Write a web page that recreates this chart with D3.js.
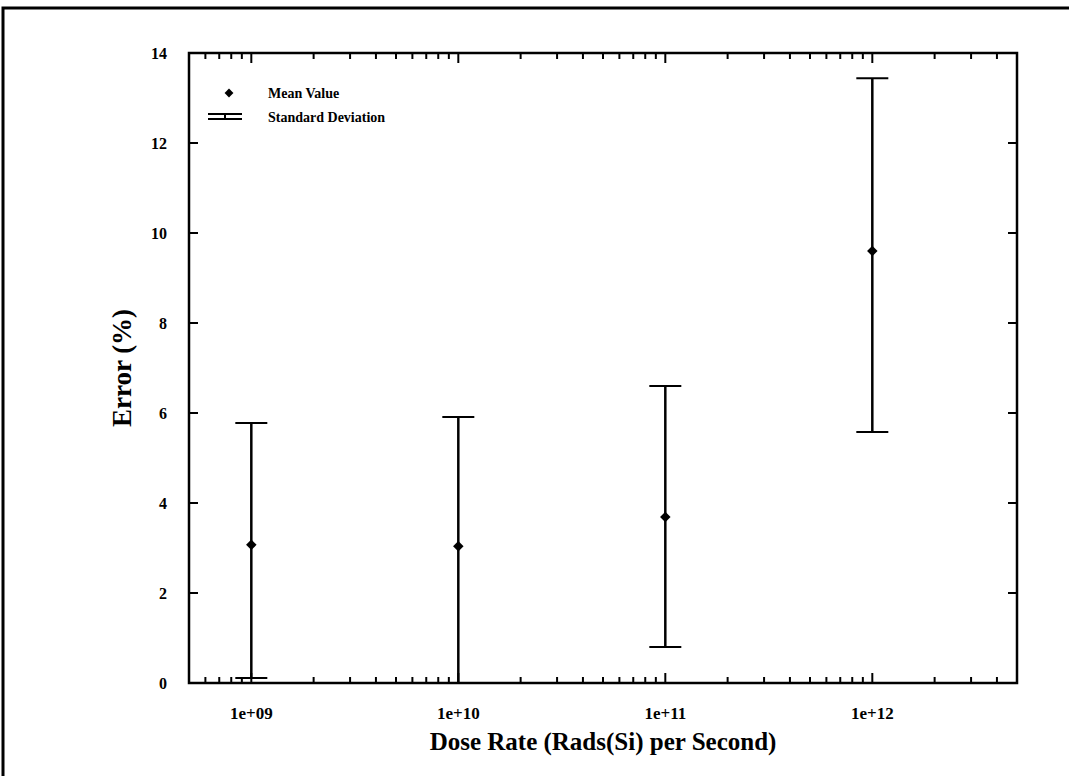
<!DOCTYPE html>
<html>
<head>
<meta charset="utf-8">
<script src="https://cdn.jsdelivr.net/npm/d3@7"></script>
<style>
  html, body { margin: 0; padding: 0; background: #fff; }
  svg { display: block; }
  text { font-family: "Liberation Serif", "DejaVu Serif", serif; fill: #000; }
</style>
</head>
<body>
<svg id="chart" width="1069" height="776"></svg>
<script>
// Dose rates (Rads(Si)/s) and error statistics (%)
const doseRates = [1e9, 1e10, 1e11, 1e12];
const meanError = [3.07, 3.04, 3.69, 9.6];
const upperError = [5.78, 5.91, 6.6, 13.44];
const lowerError = [0.11, 0.0, 0.8, 5.58];

const xTickValues = [1e9, 1e10, 1e11, 1e12];
const xTickLabels = ["1e+09", "1e+10", "1e+11", "1e+12"];
const yTickValues = [0, 2, 4, 6, 8, 10, 12, 14];
const legendLabels = ["Mean Value", "Standard Deviation"];

const svg = d3.select("#chart");
const plotL = 189, plotR = 1017, plotT = 53, plotB = 683;

const x = d3.scaleLog().domain([5e8, 5e12]).range([plotL, plotR]);
const y = d3.scaleLinear().domain([0, 14]).range([plotB, plotT]);

// page frame
svg.append("path")
  .attr("d", "M3,776 L3,8 L1069,8")
  .attr("fill", "none").attr("stroke", "#000").attr("stroke-width", 3);

// plot box
svg.append("rect")
  .attr("x", plotL).attr("y", plotT)
  .attr("width", plotR - plotL).attr("height", plotB - plotT)
  .attr("fill", "none").attr("stroke", "#000").attr("stroke-width", 2.5);

// x ticks (log, majors at decades) on bottom and top, pointing inward
const isMajor = v => Math.abs(Math.log10(v) - Math.round(Math.log10(v))) < 1e-9;
const xTicks = x.ticks();
const tickG = svg.append("g").attr("stroke", "#000");
xTicks.forEach(v => {
  const len = isMajor(v) ? 10 : 6;
  const px = x(v);
  tickG.append("line").attr("x1", px).attr("x2", px)
    .attr("y1", plotB).attr("y2", plotB - len).attr("stroke-width", 2);
  tickG.append("line").attr("x1", px).attr("x2", px)
    .attr("y1", plotT).attr("y2", plotT + len).attr("stroke-width", 2);
});

// y ticks on left and right, pointing inward
yTickValues.forEach(v => {
  const py = y(v);
  tickG.append("line").attr("x1", plotL).attr("x2", plotL + 9)
    .attr("y1", py).attr("y2", py).attr("stroke-width", 2);
  tickG.append("line").attr("x1", plotR).attr("x2", plotR - 9)
    .attr("y1", py).attr("y2", py).attr("stroke-width", 2);
});

// tick labels
svg.append("g").selectAll("text").data(yTickValues).join("text")
  .attr("x", 167).attr("y", d => y(d)).attr("dy", "0.35em")
  .attr("text-anchor", "end").attr("font-size", 16).attr("font-weight", "bold")
  .text(d => d);

svg.append("g").selectAll("text").data(xTickValues).join("text")
  .attr("x", d => x(d)).attr("y", 713).attr("dy", "0.35em")
  .attr("text-anchor", "middle").attr("font-size", 17).attr("font-weight", "bold")
  .text((d, i) => xTickLabels[i]);

// axis titles
svg.append("text")
  .attr("x", (plotL + plotR) / 2).attr("y", 750)
  .attr("text-anchor", "middle").attr("font-size", 25).attr("font-weight", "bold")
  .text("Dose Rate (Rads(Si) per Second)");

svg.append("text")
  .attr("transform", `translate(122,${(plotT + plotB) / 2}) rotate(-90)`)
  .attr("text-anchor", "middle").attr("dy", "0.35em")
  .attr("font-size", 27).attr("font-weight", "bold")
  .text("Error (%)");

// error bars
const capHalf = 16;
const bars = svg.append("g").attr("stroke", "#000").attr("stroke-width", 2.5);
doseRates.forEach((d, i) => {
  const px = x(d);
  bars.append("line").attr("x1", px).attr("x2", px)
    .attr("y1", y(upperError[i])).attr("y2", y(lowerError[i]));
  bars.append("line").attr("x1", px - capHalf).attr("x2", px + capHalf)
    .attr("y1", y(upperError[i])).attr("y2", y(upperError[i])).attr("stroke-width", 2);
  bars.append("line").attr("x1", px - capHalf).attr("x2", px + capHalf)
    .attr("y1", y(lowerError[i])).attr("y2", y(lowerError[i])).attr("stroke-width", 2);
});

// mean markers
const diamond = d3.symbol().type(d3.symbolDiamond2).size(70);
svg.append("g").selectAll("path").data(doseRates).join("path")
  .attr("d", diamond)
  .attr("transform", (d, i) => `translate(${x(d)},${y(meanError[i])})`)
  .attr("fill", "#000");

// legend
const lg = svg.append("g");
lg.append("path").attr("d", d3.symbol().type(d3.symbolDiamond2).size(50))
  .attr("transform", "translate(229,93)").attr("fill", "#000");
lg.append("line").attr("x1", 208).attr("x2", 242).attr("y1", 114).attr("y2", 114)
  .attr("stroke", "#000").attr("stroke-width", 1.8);
lg.append("line").attr("x1", 208).attr("x2", 242).attr("y1", 119).attr("y2", 119)
  .attr("stroke", "#000").attr("stroke-width", 1.8);
lg.append("line").attr("x1", 225).attr("x2", 225).attr("y1", 114).attr("y2", 119)
  .attr("stroke", "#000").attr("stroke-width", 2);
lg.selectAll("text").data(legendLabels).join("text")
  .attr("x", 268).attr("y", (d, i) => 98 + i * 24)
  .attr("font-size", 14).attr("font-weight", "bold")
  .text(d => d);
</script>
</body>
</html>
